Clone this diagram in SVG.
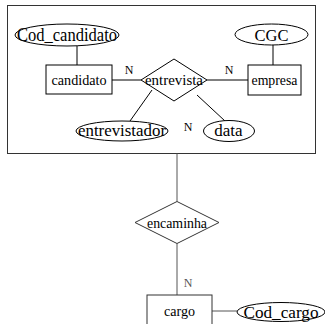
<svg xmlns="http://www.w3.org/2000/svg" width="325" height="324" viewBox="0 0 325 324">
<style>
.s{fill:#fff;stroke:#000;stroke-width:1}
.g{fill:#fff;stroke:#333;stroke-width:1}
.l{stroke:#000;stroke-width:1;fill:none}
.lg{stroke:#555;stroke-width:1;fill:none}
text{font-family:"Liberation Serif","Times New Roman",serif;text-anchor:middle;fill:#000}
.a{font-size:16.5px}
.e{font-size:15.5px}
.n{font-size:12px}
</style>
<rect width="325" height="324" fill="#fff"/>
<g id="aggregate">
<rect x="7.5" y="5.5" width="308" height="148" fill="none" stroke="#333" stroke-width="1"/>
</g>
<g id="connectors">
<line class="l" x1="77" y1="46" x2="77" y2="65"/>
<line class="l" x1="112" y1="80" x2="141" y2="80"/>
<line class="l" x1="207" y1="80" x2="248" y2="80"/>
<line class="l" x1="273" y1="45" x2="273" y2="65"/>
<line class="l" x1="152" y1="90" x2="130" y2="121"/>
<line class="l" x1="197" y1="95" x2="225" y2="121"/>
<line class="lg" x1="177" y1="153.5" x2="177" y2="201.5"/>
<line class="lg" x1="177" y1="243.5" x2="177" y2="295"/>
<line class="lg" x1="212" y1="311" x2="237" y2="311"/>
</g>
<g id="Cod_candidato">
<ellipse class="s" cx="67" cy="35" rx="52" ry="11"/>
<text x="67" y="41" style="font-size:18px" textLength="100" lengthAdjust="spacingAndGlyphs">Cod_candidato</text>
</g>
<g id="candidato">
<rect class="s" x="46" y="65" width="66" height="29"/>
<text class="e" x="79" y="85" textLength="55" lengthAdjust="spacingAndGlyphs">candidato</text>
</g>
<g id="entrevista">
<polygon class="s" points="141,80 174,59 207,80 174,101"/>
<text class="e" x="174" y="85" textLength="58" lengthAdjust="spacingAndGlyphs">entrevista</text>
</g>
<g id="empresa">
<rect class="s" x="248" y="65" width="53" height="30"/>
<text class="e" x="274.5" y="85" textLength="46" lengthAdjust="spacingAndGlyphs">empresa</text>
</g>
<g id="CGC">
<ellipse class="s" cx="271.5" cy="34.5" rx="36.5" ry="10.5"/>
<text class="a" x="271.5" y="40.5">CGC</text>
</g>
<g id="entrevistador">
<ellipse class="s" cx="122" cy="131" rx="46" ry="10"/>
<text class="a" x="122" y="136" textLength="88" lengthAdjust="spacingAndGlyphs">entrevistador</text>
</g>
<g id="data">
<ellipse class="s" cx="229" cy="131" rx="25.5" ry="10.5"/>
<text class="a" x="228.5" y="136" style="font-size:17px">data</text>
</g>
<g id="labels">
<text class="n" x="129" y="74">N</text>
<text class="n" x="229" y="74">N</text>
<text class="n" x="188" y="131">N</text>
<text class="n" x="188" y="287" style="fill:#555">N</text>
</g>
<g id="encaminha">
<polygon class="g" points="135,222.5 177,201.5 219,222.5 177,243.5"/>
<text class="e" x="177" y="227.5" textLength="60" lengthAdjust="spacingAndGlyphs">encaminha</text>
</g>
<g id="cargo">
<rect class="g" x="147" y="295" width="65" height="40"/>
<text class="e" x="179.5" y="316" textLength="31" lengthAdjust="spacingAndGlyphs">cargo</text>
</g>
<g id="Cod_cargo">
<ellipse class="s" cx="281" cy="312" rx="44" ry="9.5"/>
<text x="281" y="318" style="font-size:17px" textLength="75" lengthAdjust="spacingAndGlyphs">Cod_cargo</text>
</g>
</svg>
